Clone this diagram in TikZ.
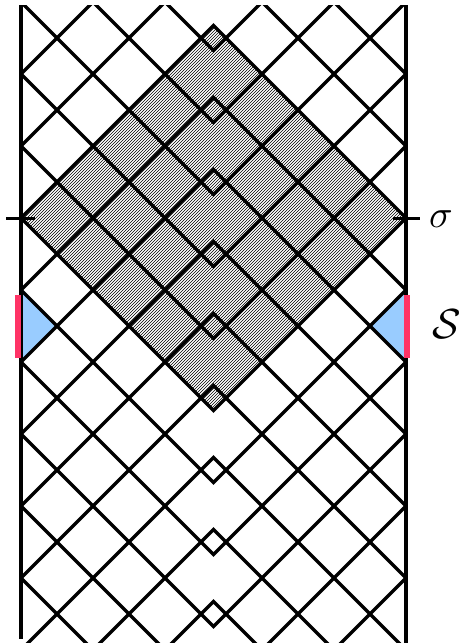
\documentclass[tikz,border=0pt]{standalone}
\definecolor{sblue}{RGB}{153,204,255}
\definecolor{sred}{RGB}{255,51,102}
\begin{document}
\begin{tikzpicture}[x=1pt,y=-1pt,
  gridline/.style={line width=3.2pt, line join=miter},
  wall/.style={line width=4.4pt},
  hatchline/.style={line width=0.5pt},
  tickline/.style={line width=3pt},
  barline/.style={line width=6pt, draw=sred},
  region/.style={fill=sblue}]
\useasboundingbox (0,0) rectangle (461,643);
\coordinate (L) at (21,218);
\coordinate (T) at (213.5,25.5);
\coordinate (R) at (406,218);
\coordinate (B) at (213.5,410.5);
% hatched region
\begin{scope}
  \clip (L) -- (T) -- (R) -- (B) -- cycle;
  \foreach \k in {236,239,...,630} \draw[hatchline] (\k-700,700) -- (\k+100,-100);
\end{scope}
% blue triangles
\fill[region] (21,290) -- (57,326) -- (21,362) -- cycle;
\fill[region] (406,290) -- (370,326) -- (406,362) -- cycle;
% grid
\begin{scope}
  \clip (21,5) rectangle (406,643);
  \foreach \n in {-5,...,9} {
    \pgfmathsetmacro\c{218+72*\n}
    \draw[gridline] (21,\c) -- (213.5,\c+192.5) -- (406,\c);
    \draw[gridline] (21,\c) -- (213.5,\c-192.5) -- (406,\c);
  }
\end{scope}
% walls
\coordinate (LT) at (21,5); \coordinate (LB) at (21,639);
\coordinate (RT) at (406,5); \coordinate (RB) at (406,643);
\draw[wall] (LT) -- (LB);
\draw[wall] (RT) -- (RB);
% red bars
\coordinate (lb1) at (18,295); \coordinate (lb2) at (18,358);
\coordinate (rb1) at (407,295); \coordinate (rb2) at (407,358);
\draw[barline] (lb1) -- (lb2);
\draw[barline] (rb1) -- (rb2);
% ticks
\coordinate (lt1) at (6,218); \coordinate (lt2) at (35,218);
\coordinate (rt1) at (393,218); \coordinate (rt2) at (420,218);
\draw[tickline] (lt1) -- (lt2);
\draw[tickline] (rt1) -- (rt2);
% labels
\node[inner sep=0pt, scale=3.9] (sigma) at (441,219) {$\sigma$};
\node[inner sep=0pt, scale=4.2] (S) at (446.5,324) {$\mathcal{S}$};
\end{tikzpicture}
\end{document}
